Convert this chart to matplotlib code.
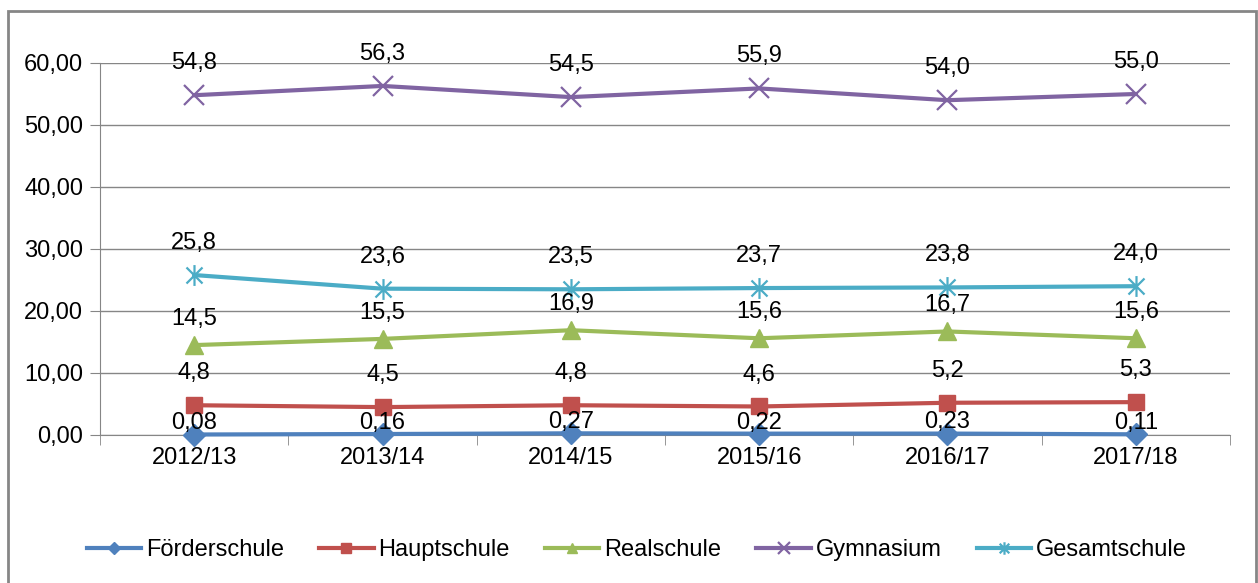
import numpy as np
import matplotlib
matplotlib.use("Agg")
import matplotlib.pyplot as plt
from matplotlib.patches import Rectangle
from matplotlib.path import Path
from matplotlib.ticker import FixedLocator

plt.rcParams["font.family"] = ["Liberation Sans", "DejaVu Sans"]

years = ["2012/13", "2013/14", "2014/15", "2015/16", "2016/17", "2017/18"]

foerderschule = [0.08, 0.16, 0.27, 0.22, 0.23, 0.11]
hauptschule = [4.8, 4.5, 4.8, 4.6, 5.2, 5.3]
realschule = [14.5, 15.5, 16.9, 15.6, 16.7, 15.6]
gymnasium = [54.8, 56.3, 54.5, 55.9, 54.0, 55.0]
gesamtschule = [25.8, 23.6, 23.5, 23.7, 23.8, 24.0]

# excel style star: an x with a vertical bar through it
star = Path([(-1, -1), (1, 1), (-1, 1), (1, -1), (0, -1.3), (0, 1.3)],
            [Path.MOVETO, Path.LINETO, Path.MOVETO, Path.LINETO, Path.MOVETO, Path.LINETO])

series = [
    ("Förderschule", foerderschule, "#4F81BD", "D", 11, 2, 8),
    ("Hauptschule", hauptschule, "#C0504D", "s", 12, 1, 23),
    ("Realschule", realschule, "#9BBB59", "^", 13, 1, 19),
    ("Gymnasium", gymnasium, "#8064A2", "x", 14, 1, 23),
    ("Gesamtschule", gesamtschule, "#4BACC6", star, 15, 1, 23),
]

fig = plt.figure(figsize=(12.58, 5.83), dpi=100)
W, H = 1258, 583

# outer frame
fig.patches.append(Rectangle((8 / W, -0.01), (1256 - 8) / W, 1 - 11 / H + 0.01,
                             transform=fig.transFigure, fill=False,
                             edgecolor="#868686", linewidth=2))

ax = fig.add_axes([100 / W, 1 - 435 / H, (1230 - 100) / W, (435 - 63) / H])

x = np.arange(len(years))
for name, vals, color, marker, ms, dec, off in series:
    if isinstance(marker, Path) or marker == "x":
        ax.plot(x, vals, color=color, linewidth=3, marker=marker, markersize=ms,
                markeredgewidth=1.6, label=name, clip_on=False, zorder=3)
    else:
        ax.plot(x, vals, color=color, linewidth=3, marker=marker, markersize=ms,
                label=name, clip_on=False, zorder=3)
    for xi, v in zip(x, vals):
        txt = "{:.{}f}".format(v, dec).replace(".", ",")
        ax.annotate(txt, (xi, v), xytext=(0, off), textcoords="offset points",
                    ha="center", va="center", fontsize=17, color="black", zorder=4)

ax.set_xlim(-0.5, len(years) - 0.5)
ax.set_ylim(0, 60)
ax.set_yticks(np.arange(0, 61, 10))
ax.set_yticklabels(["{:.2f}".format(t).replace(".", ",") for t in np.arange(0, 61, 10)])
ax.set_xticks(x)
ax.set_xticklabels(years)
ax.xaxis.set_minor_locator(FixedLocator(np.arange(-0.5, len(years), 1.0)))
ax.tick_params(axis="x", which="major", length=0, labelsize=17, pad=9)
ax.tick_params(axis="x", which="minor", length=7, color="#868686", direction="out")
ax.tick_params(axis="y", length=7, color="#868686", labelsize=17, pad=5)

ax.grid(axis="y", color="#868686", linewidth=1)
ax.set_axisbelow(True)
for s in ["top", "right"]:
    ax.spines[s].set_visible(False)
for s in ["left", "bottom"]:
    ax.spines[s].set_color("#868686")

legend_y = ((H - 550) - (H - 435)) / (435 - 63)
ax.legend(loc="center", bbox_to_anchor=(0.475, legend_y),
          ncol=5, frameon=False, fontsize=17, handlelength=2.3, handletextpad=0.2,
          columnspacing=1.5, markerscale=0.6)

fig.savefig("out.png", dpi=100)
